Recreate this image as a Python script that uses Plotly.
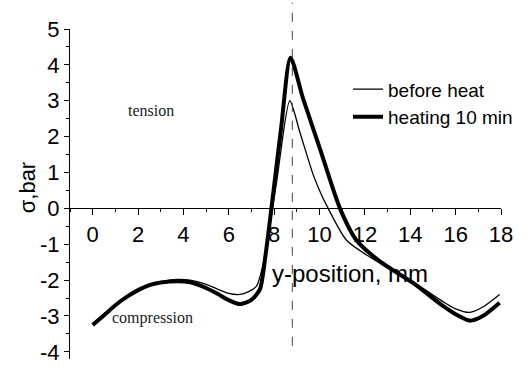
import plotly.graph_objects as go

# ---- data ----
x_before = [0, 1, 2, 3, 3.7, 4.3, 5, 5.5, 6, 6.49, 6.85, 7.22, 7.55, 8.1, 8.69,
            9.13, 9.72, 10.0, 10.38, 11.19, 12.2, 13.0, 14.12, 15.44, 16.0, 16.62, 17.2, 17.94]
y_before = [-3.22, -2.68, -2.25, -2.04, -1.98, -2.0, -2.12, -2.25, -2.37, -2.40, -2.33, -2.17,
            -1.45, 0.7, 3.0, 2.13, 0.94, 0.5, 0.0, -0.89, -1.35, -1.65, -2.05,
            -2.6, -2.8, -2.9, -2.75, -2.40]

x_heat = [0, 0.5, 1, 1.5, 2, 2.5, 3, 3.7, 4.3, 5, 5.5, 6, 6.49, 7.0, 7.37, 7.62, 8.3,
          8.72, 9.28, 10.01, 10.9, 11.63, 12.66, 14.12, 15.44, 16.0, 16.62, 17.2, 17.94]
y_heat = [-3.25, -2.98, -2.70, -2.47, -2.28, -2.14, -2.07, -2.03, -2.06, -2.22, -2.38, -2.56,
          -2.67, -2.55, -2.26, -1.3, 2.2, 4.2, 3.05, 1.68, 0.0, -0.89, -1.48,
          -2.08, -2.72, -2.95, -3.13, -3.0, -2.63]

series_names = ["before heat", "heating 10 min"]
peak_x = 8.8
x_ticks = [0, 2, 4, 6, 8, 10, 12, 14, 16, 18]
y_ticks = [-4, -3, -2, -1, 0, 1, 2, 3, 4, 5]
y_ticklabels = ["-4", "-3", "-2", "-1", "0", "1", "2", "3", "4", "5"]
x_range = [-1, 18]
y_range = [-4.2, 5]

fig = go.Figure()
fig.add_trace(go.Scatter(x=x_before, y=y_before, mode="lines", name=series_names[0],
                         line=dict(color="black", width=1.3, shape="spline", smoothing=0.7)))
fig.add_trace(go.Scatter(x=x_heat, y=y_heat, mode="lines", name=series_names[1],
                         line=dict(color="black", width=4, shape="spline", smoothing=0.7)))

# dashed vertical line at the peak
fig.add_shape(type="line", xref="x", yref="paper", x0=peak_x, x1=peak_x, y0=0.04, y1=1.08,
              line=dict(color="#444", width=1, dash="dash"))

xpos = (0 - y_range[0]) / (y_range[1] - y_range[0])

fig.update_layout(
    width=531, height=374,
    margin=dict(l=70, r=30, t=29, b=10),
    paper_bgcolor="white", plot_bgcolor="white",
    font=dict(family="Liberation Sans, Arial, sans-serif", color="black"),
    showlegend=True,
    legend=dict(x=0.645, y=0.875, xanchor="left", yanchor="top", bgcolor="rgba(0,0,0,0)",
                font=dict(size=19, color="black"), itemwidth=30, tracegroupgap=0),
    xaxis=dict(range=x_range, tickvals=x_ticks, ticks="outside", ticklen=6, tickwidth=1,
               tickcolor="black", showline=True, linecolor="black", linewidth=1,
               showgrid=False, zeroline=False, anchor="free", position=xpos,
               tickfont=dict(size=22), minor=dict(dtick=1, ticks="outside", ticklen=3,
                                                  tickcolor="black", showgrid=False)),
    yaxis=dict(range=y_range, tickvals=y_ticks, ticktext=y_ticklabels, ticks="outside",
               ticklen=5, tickwidth=1,
               tickcolor="black", showline=True, linecolor="black", linewidth=1,
               showgrid=False, zeroline=False, tickfont=dict(size=22),
               minor=dict(dtick=0.5, ticks="outside", ticklen=3, tickcolor="black",
                          showgrid=False)),
)

fig.add_annotation(text="σ,bar", xref="paper", yref="paper", x=-0.1, y=0.52, textangle=-90,
                   showarrow=False, font=dict(size=22), xanchor="center", yanchor="middle")
fig.add_annotation(text="y-position, mm", xref="paper", yref="paper", x=0.65, y=0.26,
                   showarrow=False, font=dict(size=24), xanchor="center", yanchor="middle")
fig.add_annotation(text="tension", xref="x", yref="y", x=2.57, y=2.72, showarrow=False,
                   font=dict(family="Liberation Serif, Times New Roman, serif", size=16,
                             color="#222"))
fig.add_annotation(text="compression", xref="x", yref="y", x=2.63, y=-3.05, showarrow=False,
                   font=dict(family="Liberation Serif, Times New Roman, serif", size=16,
                             color="#222"))

fig.write_html("out.html")
